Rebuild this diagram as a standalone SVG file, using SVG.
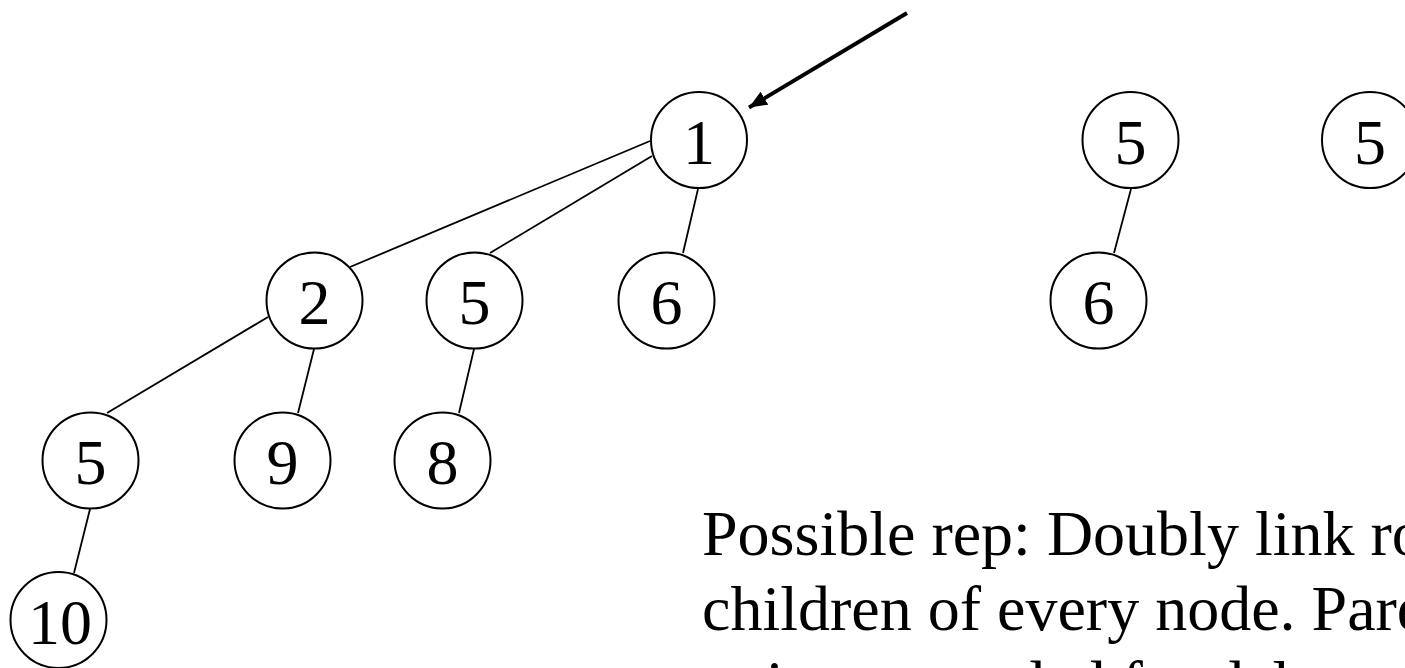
<svg xmlns="http://www.w3.org/2000/svg" width="1405" height="668" viewBox="0 0 1405 668">
  <style>
    .node circle { fill: #ffffff; stroke: #000000; stroke-width: 2; }
    .node text { font-family: "Liberation Serif", "Times New Roman", serif; font-size: 64px; fill: #000000; text-anchor: middle; }
    .edge { stroke: #000000; stroke-width: 1.8; fill: none; }
    .pointer { stroke: #000000; stroke-width: 4; fill: none; }
    .note { font-family: "Liberation Serif", "Times New Roman", serif; font-size: 64px; fill: #000000; }
  </style>
  <defs>
    <marker id="head" markerUnits="userSpaceOnUse" markerWidth="20" markerHeight="16" refX="18" refY="7.5" orient="auto">
      <polygon points="0,0 18,7.5 0,15" fill="#000000"/>
    </marker>
  </defs>
  <rect width="1405" height="668" fill="#ffffff"/>

  <!-- tree edges and the root pointer -->
  <g id="connectors">
    <line class="edge" x1="650" y1="141" x2="350" y2="267"/>
    <line class="edge" x1="652" y1="156" x2="490" y2="253"/>
    <line class="edge" x1="698" y1="189" x2="683" y2="253"/>
    <line class="edge" x1="268" y1="317" x2="107" y2="413"/>
    <line class="edge" x1="314" y1="349" x2="298" y2="413"/>
    <line class="edge" x1="474" y1="349" x2="459" y2="413"/>
    <line class="edge" x1="90" y1="509" x2="74" y2="573"/>
    <line class="edge" x1="1131" y1="189" x2="1114" y2="253"/>
    <line class="pointer" x1="907" y1="13" x2="749" y2="107.5" marker-end="url(#head)"/>
  </g>

  <g id="n1" class="node"><circle cx="699" cy="140" r="48"/><text x="699" y="164">1</text></g>
  <g id="n2" class="node"><circle cx="314.5" cy="300.5" r="48"/><text x="314.5" y="324">2</text></g>
  <g id="n5a" class="node"><circle cx="474.5" cy="300.5" r="48"/><text x="474.5" y="324">5</text></g>
  <g id="n6a" class="node"><circle cx="666.5" cy="300.5" r="48"/><text x="666.5" y="324">6</text></g>
  <g id="n5b" class="node"><circle cx="90.5" cy="460.5" r="48"/><text x="90.5" y="484">5</text></g>
  <g id="n9" class="node"><circle cx="282.5" cy="460.5" r="48"/><text x="282.5" y="484">9</text></g>
  <g id="n8" class="node"><circle cx="442.5" cy="460.5" r="48"/><text x="442.5" y="484">8</text></g>
  <g id="n10" class="node"><circle cx="58.5" cy="620" r="48"/><text x="60" y="644">10</text></g>
  <g id="n5c" class="node"><circle cx="1130.5" cy="140" r="48"/><text x="1130.5" y="164">5</text></g>
  <g id="n6b" class="node"><circle cx="1098.5" cy="300.5" r="48"/><text x="1098.5" y="324">6</text></g>
  <g id="n5d" class="node"><circle cx="1370" cy="140" r="48"/><text x="1370" y="164">5</text></g>

  <g id="caption">
    <text class="note" x="702" y="555">Possible rep: Doubly link roots</text>
    <text class="note" x="702" y="630">children of every node. Parent</text>
    <text class="note" x="702" y="705">pointers needed for delete</text>
  </g>
</svg>
